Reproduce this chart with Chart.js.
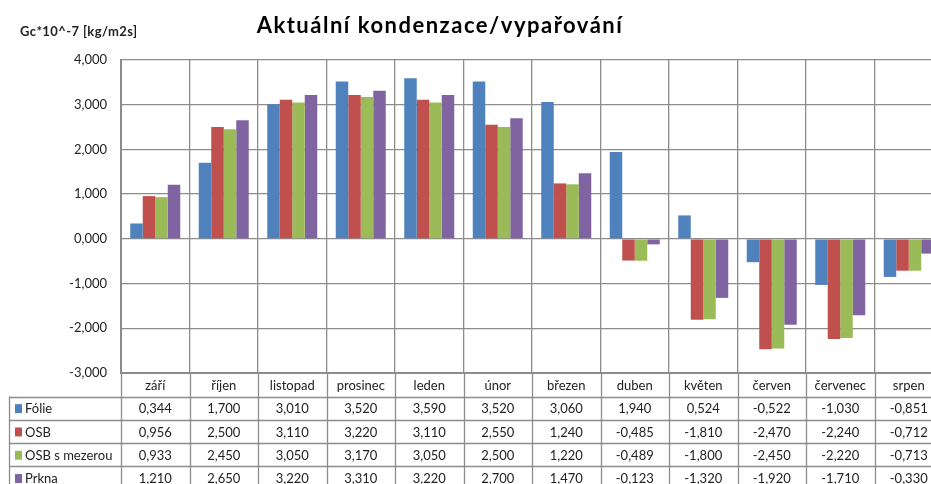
<!DOCTYPE html>
<html>
<head>
<meta charset="utf-8">
<script src="https://cdn.jsdelivr.net/npm/chart.js@4.4.1/dist/chart.umd.min.js"></script>
<style>
    html, body { margin: 0; padding: 0; background: #fff; overflow: hidden; }
    #wrap { position: relative; width: 945px; height: 484px; }
</style>
</head>
<body>
<div id="wrap"><canvas id="kondChart"></canvas></div>
<script>
const months = ['září', 'říjen', 'listopad', 'prosinec', 'leden', 'únor', 'březen', 'duben', 'květen', 'červen', 'červenec', 'srpen'];
const folie = [0.344, 1.700, 3.010, 3.520, 3.590, 3.520, 3.060, 1.940, 0.524, -0.522, -1.030, -0.851];
const osb = [0.956, 2.500, 3.110, 3.220, 3.110, 2.550, 1.240, -0.485, -1.810, -2.470, -2.240, -0.712];
const osbMezera = [0.933, 2.450, 3.050, 3.170, 3.050, 2.500, 1.220, -0.489, -1.800, -2.450, -2.220, -0.713];
const prkna = [1.210, 2.650, 3.220, 3.310, 3.220, 2.700, 1.470, -0.123, -1.320, -1.920, -1.710, -0.330];

const seriesNames = ['Fólie', 'OSB', 'OSB s mezerou', 'Prkna'];
const seriesColors = ['#4F81BD', '#C0504D', '#9BBB59', '#8064A2'];
const titleText = 'Aktuální kondenzace/vypařování';
const unitText = 'Gc*10^-7 [kg/m2s]';

const fontName = 'Lato, "Open Sans", sans-serif';
const gridColor = '#8c8c8c';

function fmt(v) {
    return v.toFixed(3).replace('.', ',');
}

// title, unit label and the data table under the plot
const tablePlugin = {
    id: 'tablePlugin',
    afterDraw(chart) {
        const ctx = chart.ctx;
        const x = chart.scales.x;
        const area = chart.chartArea;
        const colW = x.width / months.length;
        const top = area.bottom;
        const headH = 23.5;
        const rowH = 23.3;

        ctx.save();
        ctx.fillStyle = '#000';
        ctx.font = 'bold 22px ' + fontName;
        ctx.letterSpacing = '1.5px';
        ctx.textAlign = 'center';
        ctx.textBaseline = 'middle';
        ctx.fillText(titleText, 440, 26);

        ctx.font = 'bold 13px ' + fontName;
        ctx.letterSpacing = '0.4px';
        ctx.textAlign = 'left';
        ctx.fillStyle = '#222';
        ctx.fillText(unitText, 20, 32);
        ctx.letterSpacing = '0px';

        ctx.strokeStyle = gridColor;
        ctx.lineWidth = 1.3;

        // vertical lines
        for (let i = 0; i <= months.length; i++) {
            const px = Math.round(area.left + i * colW) + 0.5;
            ctx.beginPath();
            ctx.moveTo(px, top);
            ctx.lineTo(px, chart.height);
            ctx.stroke();
        }
        ctx.beginPath();
        ctx.moveTo(9.5, top + headH);
        ctx.lineTo(9.5, chart.height);
        ctx.stroke();

        // horizontal lines
        for (let r = 0; r <= seriesNames.length; r++) {
            const py = Math.round(top + headH + r * rowH) + 0.5;
            ctx.beginPath();
            ctx.moveTo(9, py);
            ctx.lineTo(area.right, py);
            ctx.stroke();
        }

        ctx.font = '13px ' + fontName;
        ctx.fillStyle = '#222';
        ctx.textAlign = 'center';
        months.forEach((m, i) => {
            ctx.fillText(m, x.getPixelForValue(i), top + headH / 2 + 1);
        });

        const sets = chart.data.datasets;
        sets.forEach((ds, r) => {
            const cy = top + headH + r * rowH + rowH / 2 + 1;
            ctx.fillStyle = ds.backgroundColor;
            ctx.fillRect(15, cy - 5, 7, 9);
            ctx.fillStyle = '#222';
            ctx.textAlign = 'left';
            ctx.fillText(ds.label, 25, cy);
            ctx.textAlign = 'center';
            ds.data.forEach((v, i) => {
                ctx.fillText(fmt(v), x.getPixelForValue(i), cy);
            });
        });
        ctx.restore();
    }
};

const ctx = document.getElementById('kondChart').getContext('2d');

const data = {
    labels: months,
    datasets: [
        { label: seriesNames[0], data: folie, backgroundColor: seriesColors[0] },
        { label: seriesNames[1], data: osb, backgroundColor: seriesColors[1] },
        { label: seriesNames[2], data: osbMezera, backgroundColor: seriesColors[2] },
        { label: seriesNames[3], data: prkna, backgroundColor: seriesColors[3] }
    ]
};

const options = {
    responsive: true,
    maintainAspectRatio: false,
    animation: false,
    layout: {
        padding: { top: 60, right: 2, bottom: 111, left: 0 }
    },
    datasets: {
        bar: { categoryPercentage: 0.73, barPercentage: 1.0 }
    },
    scales: {
        x: {
            grid: { color: gridColor, lineWidth: 1.3, drawTicks: false, offset: true },
            border: { color: gridColor, width: 2 },
            ticks: { display: false }
        },
        y: {
            min: -3,
            max: 4,
            afterFit(scale) { scale.width = 121; },
            grid: { color: gridColor, lineWidth: 1.3, drawTicks: false },
            border: { color: gridColor, width: 2 },
            ticks: {
                stepSize: 1,
                padding: 14,
                color: '#222',
                font: { family: fontName, size: 13 },
                callback: v => fmt(v)
            }
        }
    },
    plugins: {
        legend: { display: false },
        tooltip: { enabled: false }
    }
};

new Chart(ctx, {
    type: 'bar',
    data: data,
    options: options,
    plugins: [tablePlugin]
});
</script>
</body>
</html>
